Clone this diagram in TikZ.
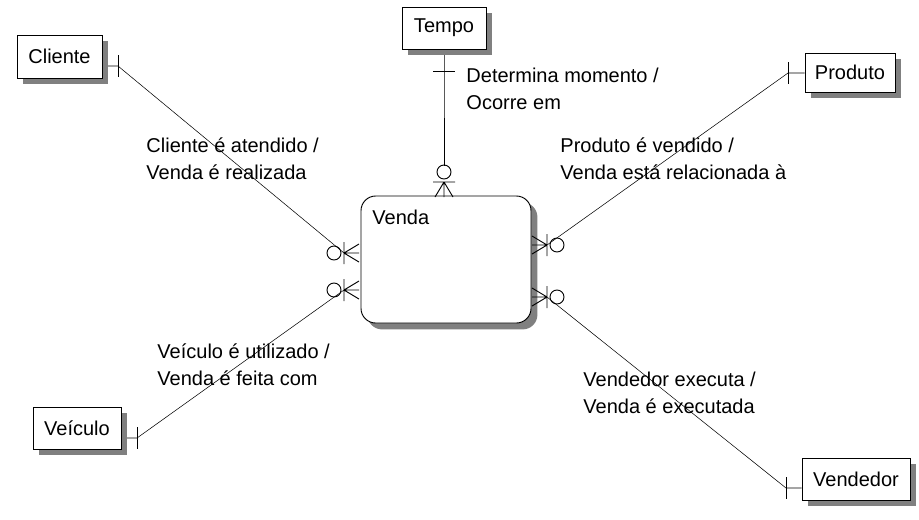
\documentclass[tikz,border=0pt]{standalone}
\usepackage{fontspec}
\setmainfont{Liberation Sans}
\usetikzlibrary{shadows,backgrounds,calc}

\begin{document}
\begin{tikzpicture}[x=0.75pt,y=-0.75pt,line width=0.7pt,
  entity/.style={draw,fill=white,font=\fontsize{15}{20}\selectfont,inner sep=0pt,
                 general shadow={fill=black!50,shadow xshift=4.8pt,shadow yshift=-4.8pt}},
  lbl/.style={font=\fontsize{15}{20.25}\selectfont,align=left,anchor=west,inner sep=0pt},
  onebar/.pic={\draw (0,-11) -- (0,11);},
  zeromany/.pic={\draw (0,0) -- (15,-9) (0,0) -- (15,0) (0,0) -- (15,9) (0,-11) -- (0,11);
                 \draw (-10,0) circle[radius=7];},
]
\useasboundingbox (0,0) rectangle (919,519);

% entidades
\node[entity,minimum width=63.75pt,minimum height=32.25pt] (cliente) at (59.5,56.5) {Cliente};
\node[entity,minimum width=63pt,minimum height=31.5pt] (tempo) at (444,28) {Tempo};
\node[entity,minimum width=67.5pt,minimum height=29.25pt] (produto) at (850,72.5) {Produto};
\node[entity,minimum width=66pt,minimum height=31.5pt] (veiculo) at (77,428) {Veículo};
\node[entity,minimum width=81pt,minimum height=31.5pt] (vendedor) at (856,479) {Vendedor};
\node[entity,rounded corners=11pt,minimum width=127.5pt,minimum height=95.25pt] (venda) at (446,259.5) {};
\node[lbl] (lvenda) at (372,217) {Venda};

% pontos de ligacao
\coordinate (bcli) at (118,66);
\coordinate (btem) at (444,71);
\coordinate (bpro) at (788,73);
\coordinate (bvei) at (137,438);
\coordinate (bvnd) at (786,488);
\coordinate (vcli) at (344,253);
\coordinate (vvei) at (344,290);
\coordinate (vtem) at (444,182);
\coordinate (vpro) at (547,245);
\coordinate (vvnd) at (547,297);
\coordinate (otem) at (444,166);

\begin{scope}[on background layer]
\draw (cliente.east |- bcli) -- (bcli) -- (vcli);
\draw (veiculo.east |- bvei) -- (bvei) -- (vvei);
\draw (tempo.south) -- (btem) -- (otem);
\draw (produto.west |- bpro) -- (bpro) -- (vpro);
\draw (vendedor.west |- bvnd) -- (bvnd) -- (vvnd);
\end{scope}

% cardinalidades
\pic at (bcli) {onebar};
\pic at (bvei) {onebar};
\pic at (bpro) {onebar};
\pic at (bvnd) {onebar};
\pic[rotate=90] at (btem) {onebar};
\pic at (vcli) {zeromany};
\pic at (vvei) {zeromany};
\pic[rotate=180] at (vpro) {zeromany};
\pic[rotate=180] at (vvnd) {zeromany};
\pic[rotate=-90] at (vtem) {zeromany};

% rotulos
\node[lbl] (rtem) at (466,88.5) {Determina momento /\\Ocorre em};
\node[lbl] (rcli) at (146,158.5) {Cliente é atendido /\\Venda é realizada};
\node[lbl] (rpro) at (560,158.5) {Produto é vendido /\\Venda está relacionada à};
\node[lbl] (rvei) at (157,365) {Veículo é utilizado /\\Venda é feita com};
\node[lbl] (rvnd) at (583,393) {Vendedor executa /\\Venda é executada};
\end{tikzpicture}
\end{document}
